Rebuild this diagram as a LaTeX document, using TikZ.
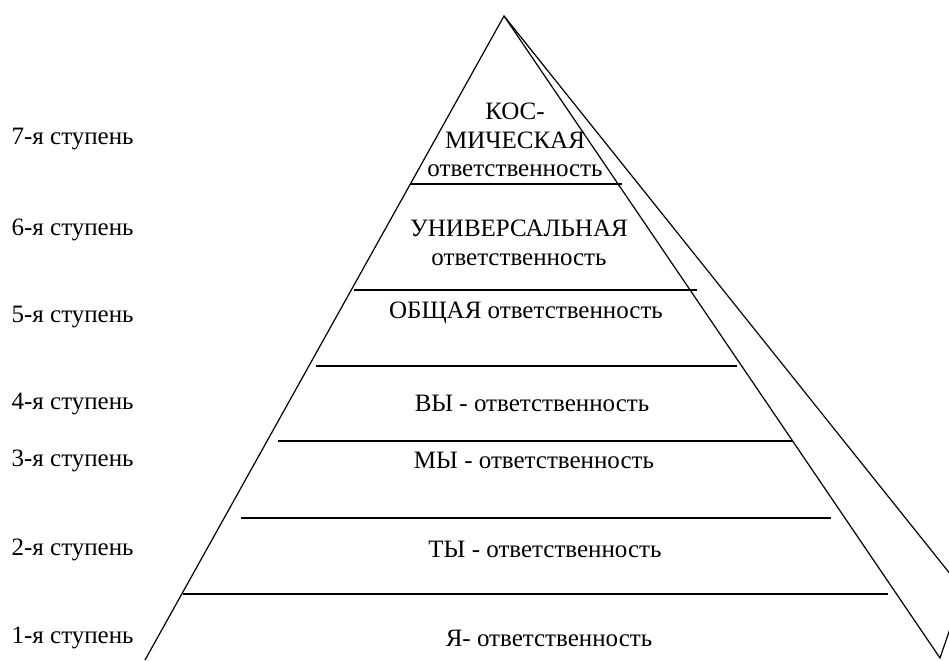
\documentclass[tikz,border=0pt]{standalone}
\usepackage{fontspec}
\setmainfont{Liberation Serif}
\begin{document}
\begin{tikzpicture}[x=0.5pt,y=-0.5pt,line width=0.6pt,
        every node/.style={font=\fontsize{12.5}{14.3}\selectfont,inner sep=0pt},
        stupen/.style={anchor=west},
        otvet/.style={align=center}]
        \clip (0,0) rectangle (949,660);
        % pyramid
        \coordinate (apex) at (504,16);
        \draw (145,660) -- (apex) -- (940,658) -- (952,623);
        \draw (apex) -- (1019,660);
        \foreach \y/\a/\b in {184/410/622,290/354/697,366/316/737,441/278/793,518/241/831,594/183/888}
            \draw (\a,\y) -- (\b,\y);
        % steps on the left
        \foreach \n/\y in {7/139,6/230,5/317,4/404,3/461,2/550,1/638}
            \node[stupen] (st\n) at (11,\y) {\n-я ступень};
        % levels
        \node[otvet] (kos) at (515,140) {КОС-\\МИЧЕСКАЯ\\ответственность};
        \node[otvet] (univ) at (519,243) {УНИВЕРСАЛЬНАЯ\\ответственность};
        \node (obsh) at (526,313) {ОБЩАЯ ответственность};
        \node (vy) at (532,403) {ВЫ - ответственность};
        \node (my) at (534,460) {МЫ - ответственность};
        \node (ty) at (545,549) {ТЫ - ответственность};
        \node (ya) at (549,638) {Я- ответственность};
    \end{tikzpicture}
\end{document}
